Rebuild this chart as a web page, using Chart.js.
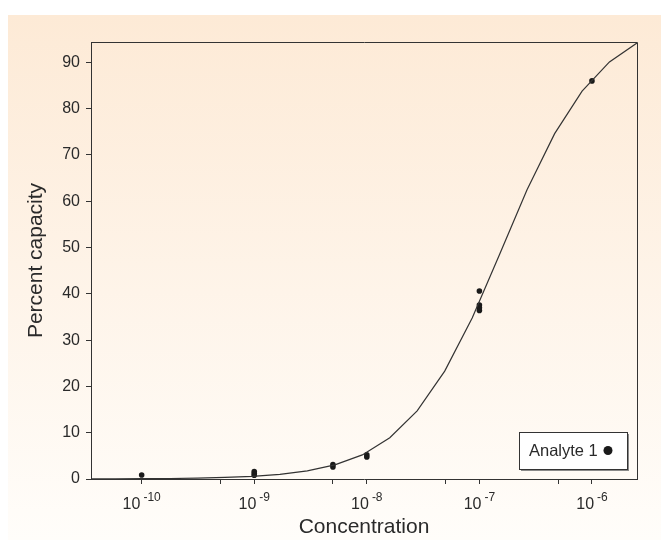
<!DOCTYPE html>
<html>
<head>
<meta charset="utf-8">
<script src="https://cdn.jsdelivr.net/npm/chart.js@4.4.1/dist/chart.umd.min.js"></script>
<style>
  html, body { margin: 0; padding: 0; background: #fff; }
  #wrap { position: relative; width: 661px; height: 540px; }
  #panel { position: absolute; left: 8px; top: 15px; right: 0; bottom: 0;
    background: linear-gradient(#fdead6, #fffdfa); }
  canvas { position: absolute; left: 0; top: 0; }
</style>
</head>
<body>
<div id="wrap"><div id="panel"></div><canvas id="chart" width="661" height="540"></canvas></div>
<script>
// fitted curve
const curveX = [3.31e-11, 5.81e-11, 1.02e-10, 1.79e-10, 3.13e-10, 5.5e-10, 9.64e-10, 1.69e-9,
  2.96e-9, 5.2e-9, 9.12e-9, 1.6e-8, 2.8e-8, 4.92e-8, 8.63e-8, 1.51e-7, 2.65e-7, 4.66e-7,
  8.17e-7, 1.43e-6, 2.51e-6];
const curveY = [0.02, 0.03, 0.06, 0.11, 0.18, 0.33, 0.57, 1.0,
  1.75, 3.05, 5.2, 8.9, 14.7, 23.3, 34.8, 48.5, 62.5, 74.6,
  83.8, 90.1, 94.2];

// measured points (Analyte 1)
const pointX = [1e-10, 1e-9, 1e-9, 1e-9, 5e-9, 5e-9, 1e-8, 1e-8, 1e-7, 1e-7, 1e-7, 1e-7, 1e-6];
const pointY = [0.85, 0.8, 1.2, 1.6, 2.6, 3.1, 4.75, 5.25, 36.4, 37.0, 37.6, 40.6, 86.0];

const xTickValues = [1e-10, 5e-10, 1e-9, 5e-9, 1e-8, 5e-8, 1e-7, 5e-7, 1e-6];
const decadeExps = [-10, -9, -8, -7, -6];
const yTickValues = [0, 10, 20, 30, 40, 50, 60, 70, 80, 90];

const FONT = '"Liberation Sans", Arial, sans-serif';
const INK = '#2a2a2a';

const extras = {
  id: 'extras',
  afterDraw(chart) {
    const ctx = chart.ctx;
    const a = chart.chartArea;
    const xs = chart.scales.x;
    ctx.save();

    // top and right frame
    ctx.strokeStyle = '#333';
    ctx.lineWidth = 1;
    ctx.beginPath();
    ctx.moveTo(Math.round(a.left) + 0.5, Math.round(a.top) + 0.5);
    ctx.lineTo(Math.round(a.right) + 0.5, Math.round(a.top) + 0.5);
    ctx.lineTo(Math.round(a.right) + 0.5, Math.round(a.bottom) + 0.5);
    ctx.stroke();

    // decade labels 10^n
    ctx.fillStyle = INK;
    ctx.textAlign = 'left';
    ctx.textBaseline = 'alphabetic';
    for (const e of decadeExps) {
      const x = xs.getPixelForValue(Math.pow(10, e));
      ctx.font = '16px ' + FONT;
      const w1 = ctx.measureText('10').width;
      ctx.font = '12px ' + FONT;
      const sup = String(e);
      const w2 = ctx.measureText(sup).width;
      const gap = 3;
      const x0 = x - (w1 + gap + w2) / 2;
      ctx.font = '16px ' + FONT;
      ctx.fillText('10', x0, a.bottom + 30);
      ctx.font = '12px ' + FONT;
      ctx.fillText(sup, x0 + w1 + gap, a.bottom + 22);
    }

    // legend box
    const lw = 108, lh = 37;
    const lx = Math.round(a.right) - 10 - lw;
    const ly = Math.round(a.bottom) - 10 - lh;
    ctx.fillStyle = '#8a8a8a';
    ctx.fillRect(lx + 2, ly + 2, lw, lh);
    ctx.fillStyle = '#fff';
    ctx.fillRect(lx, ly, lw, lh);
    ctx.strokeStyle = '#333';
    ctx.strokeRect(lx + 0.5, ly + 0.5, lw, lh);
    ctx.fillStyle = INK;
    ctx.font = '16.5px ' + FONT;
    ctx.textBaseline = 'middle';
    ctx.fillText('Analyte 1', lx + 10, ly + lh / 2 + 1);
    ctx.fillStyle = '#1a1a1a';
    ctx.beginPath();
    ctx.arc(lx + 89, ly + lh / 2, 4.5, 0, Math.PI * 2);
    ctx.fill();

    ctx.restore();
  }
};

new Chart(document.getElementById('chart'), {
  type: 'scatter',
  data: {
    datasets: [
      {
        label: 'fit',
        data: curveX.map((x, i) => ({ x, y: curveY[i] })),
        showLine: true,
        borderColor: '#333',
        borderWidth: 1.2,
        pointRadius: 0,
        tension: 0
      },
      {
        label: 'Analyte 1',
        data: pointX.map((x, i) => ({ x, y: pointY[i] })),
        backgroundColor: '#1a1a1a',
        borderColor: '#1a1a1a',
        pointRadius: 2.8,
        borderWidth: 0
      }
    ]
  },
  options: {
    responsive: false,
    animation: false,
    devicePixelRatio: 1,
    layout: { padding: { left: 0, right: 24, top: 42, bottom: 0 } },
    plugins: { legend: { display: false }, tooltip: { enabled: false } },
    scales: {
      x: {
        type: 'logarithmic',
        min: Math.pow(10, -10.45),
        max: Math.pow(10, -5.6),
        afterBuildTicks: scale => { scale.ticks = xTickValues.map(v => ({ value: v })); },
        afterFit: scale => { scale.height = 61; },
        ticks: { autoSkip: false, callback: () => '' },
        grid: { drawOnChartArea: false, drawTicks: true, tickLength: 5, color: '#333' },
        border: { display: true, color: '#333', width: 1 },
        title: {
          display: true, text: 'Concentration', color: INK,
          font: { family: FONT, size: 21 }, padding: { top: 11, bottom: 0 }
        }
      },
      y: {
        min: 0,
        max: 94.4,
        afterBuildTicks: scale => { scale.ticks = yTickValues.map(v => ({ value: v })); },
        afterFit: scale => { scale.width = 91; },
        ticks: { color: INK, padding: 6, font: { family: FONT, size: 16 } },
        grid: { drawOnChartArea: false, drawTicks: true, tickLength: 5, color: '#333' },
        border: { display: true, color: '#333', width: 1 },
        title: {
          display: true, text: 'Percent capacity', color: INK,
          font: { family: FONT, size: 21 }, padding: { top: 24, bottom: 0 }
        }
      }
    }
  },
  plugins: [extras]
});
</script>
</body>
</html>
